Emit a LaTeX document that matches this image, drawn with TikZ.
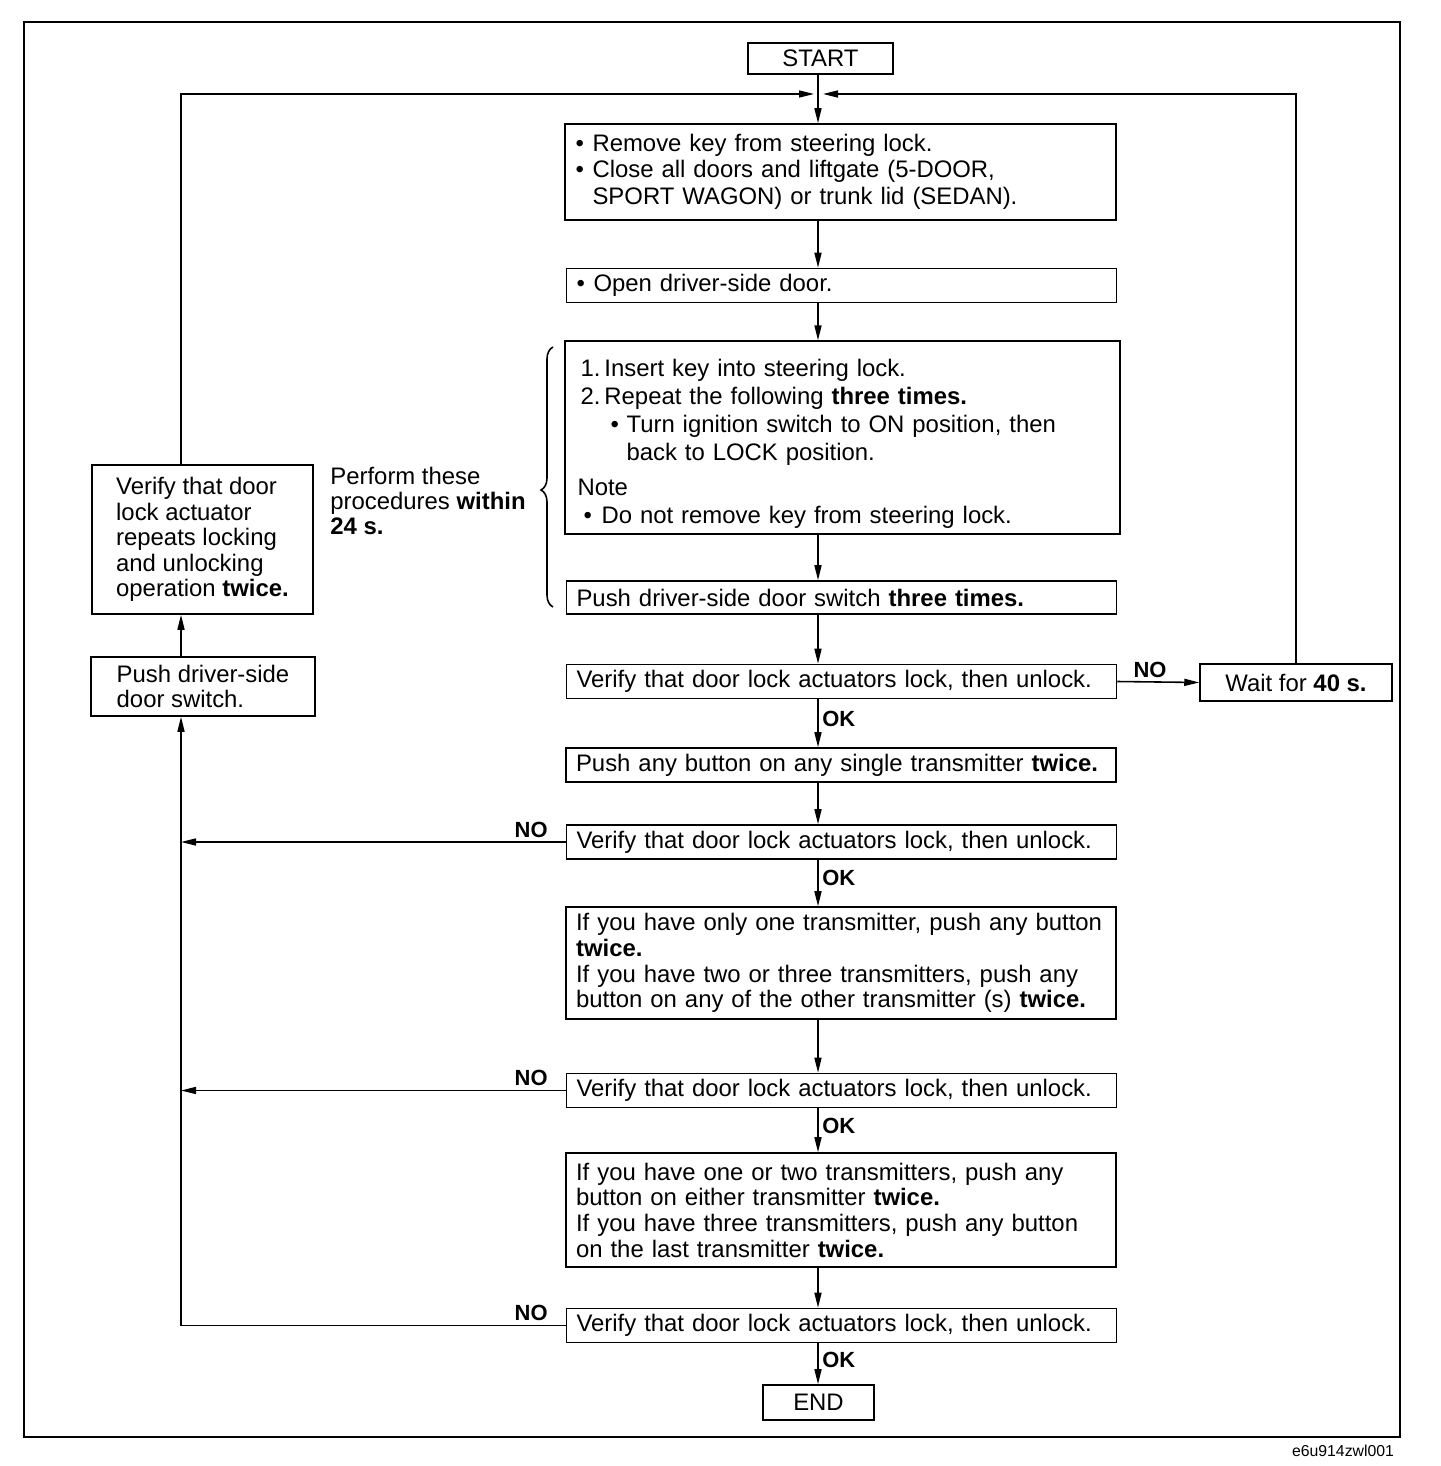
\documentclass[tikz,border=0pt]{standalone}
\usepackage{fontspec}
\setmainfont{Liberation Sans}
\usetikzlibrary{arrows.meta, positioning, decorations.pathreplacing}

\newcommand{\itm}{\makebox[0.34cm][l]{\textbullet}}
\newcommand{\ind}{\hspace*{0.34cm}}

\begin{document}
\begin{tikzpicture}[x=0.02cm, y=-0.02cm,
          stepbox/.style={draw, line width=0.9pt, font=\fontsize{13.6}{14.6}\selectfont,
              align=left, text width=10.6cm, inner xsep=0.2cm, minimum height=0.66cm},
          sidebox/.style={draw, line width=0.9pt, font=\fontsize{13.6}{14.6}\selectfont,
              align=left},
          termbox/.style={draw, line width=0.9pt, font=\fontsize{13.6}{14.6}\selectfont},
          lbl/.style={font=\bfseries\fontsize{12.5}{12.5}\selectfont, inner sep=2pt},
          arr/.style={-{Triangle[length=0.3cm, width=0.14cm]}, line width=0.9pt},
          wire/.style={line width=0.9pt}
        ]
        \useasboundingbox (0,0) rectangle (1440,1466);
        \draw[line width=1pt] (24,22) rectangle (1400,1437);
        \coordinate (spine) at (818,94);
        \coordinate (rail) at (181,94);
        % main column
        \node[termbox, minimum width=2.9cm, minimum height=0.62cm] (start) at (820.5,58.5) {START};
        \node[stepbox, minimum width=11.02cm, minimum height=1.92cm] (remove) at (840.5,172)
        {\itm Remove key from steering lock.\\
         \itm Close all doors and liftgate (5-DOOR,\\[1pt]
         \ind SPORT WAGON) or trunk lid (SEDAN).};
        \node[stepbox] (open) at (841.5,285.5) {\itm Open driver-side door.};
        \node[stepbox, minimum width=11.1cm, minimum height=3.82cm] (insert) at (842.5,437.5)
        {\rule{0pt}{17pt}\hspace*{0.06cm}1.\,Insert key into steering lock.\\[1.3pt]
         \hspace*{0.06cm}2.\,Repeat the following \textbf{three times.}\\[1.3pt]
         \hspace*{0.66cm}\makebox[0.32cm][l]{\textbullet}Turn ignition switch to ON position, then\\[1.3pt]
         \hspace*{0.98cm}back to LOCK position.\\[5pt]
         Note\\[1.3pt]
         \hspace*{0.12cm}\makebox[0.36cm][l]{\textbullet}Do not remove key from steering lock.};
        \node[stepbox] (pushsw) at (841.5,597.5) {Push driver-side door switch \textbf{three times.}};
        \node[stepbox] (check1) at (841.5,681.5) {Verify that door lock actuators lock, then unlock.};
        \node[termbox, minimum width=3.84cm, minimum height=0.74cm] (wait) at (1296,682.5) {Wait for \textbf{40 s.}};
        \node[stepbox] (pushtx) at (841,765) {Push any button on any single transmitter \textbf{twice.}};
        \node[stepbox] (check2) at (841.5,842) {Verify that door lock actuators lock, then unlock.};
        \node[stepbox, minimum height=2.24cm] (other) at (841,963)
        {If you have only one transmitter, push any button\\
         \textbf{twice.}\\
         If you have two or three transmitters, push any\\
         button on any of the other transmitter (s) \textbf{twice.}};
        \node[stepbox] (check3) at (841.5,1090.5) {Verify that door lock actuators lock, then unlock.};
        \node[stepbox, minimum height=2.28cm] (last) at (841,1210)
        {If you have one or two transmitters, push any\\
         button on either transmitter \textbf{twice.}\\
         If you have three transmitters, push any button\\
         on the last transmitter \textbf{twice.}};
        \node[stepbox] (check4) at (841.5,1325.5) {Verify that door lock actuators lock, then unlock.};
        \node[termbox, minimum width=2.22cm, minimum height=0.7cm] (end) at (818.5,1402.5) {END};
        % left column
        \node[sidebox, minimum width=4.42cm, minimum height=2.98cm] (repeat) at (202.5,539.5)
        {Verify that door\\ lock actuator\\ repeats locking\\ and unlocking\\ operation \textbf{twice.}};
        \node[sidebox, minimum width=4.48cm, minimum height=1.18cm] (pushdr) at (203,686.5)
        {Push driver-side\\ door switch.};
        \node[font=\fontsize{13.6}{14.4}\selectfont, align=left] (within) at (428,501)
        {Perform these\\ procedures \textbf{within}\\ \textbf{24 s.}};
        \draw[wire, decorate, decoration={brace, amplitude=0.24cm, aspect=0.45}] (553,607) -- (553,347);
        % connectors
        \draw[arr] (start.south -| spine) -- (remove.north -| spine);
        \foreach \a/\b in {remove/open, open/insert, insert/pushsw, pushsw/check1,
                           pushtx/check2, other/check3, last/check4}
          \draw[arr] (\a.south -| spine) -- (\b.north -| spine);
        \foreach \a/\b in {check1/pushtx, check2/other, check3/last, check4/end}
          \draw[arr] (\a.south -| spine) -- node[lbl, right, pos=0.4] {OK} (\b.north -| spine);
        \draw[arr] (check1.east) -- node[lbl, above, pos=0.4] {NO} (wait.west);
        \draw[arr] (wait.north) -- (wait.north |- spine) -- ([xshift=0.1cm]spine);
        \draw[arr] (repeat.north -| rail) -- (rail) -- ([xshift=-0.08cm]spine);
        \foreach \c in {check2, check3}
          \draw[arr] (\c.west) -- node[lbl, above, pos=0.09] {NO} (\c.west -| rail);
        \draw[arr] (check4.west) -- node[lbl, above, pos=0.09] {NO} (check4.west -| rail)
          -- (pushdr.south -| rail);
        \draw[arr] (pushdr.north -| rail) -- (repeat.south -| rail);
        \node[font=\fontsize{9}{9}\selectfont] (code) at (1343,1451) {e6u914zwl001};
      \end{tikzpicture}
\end{document}
